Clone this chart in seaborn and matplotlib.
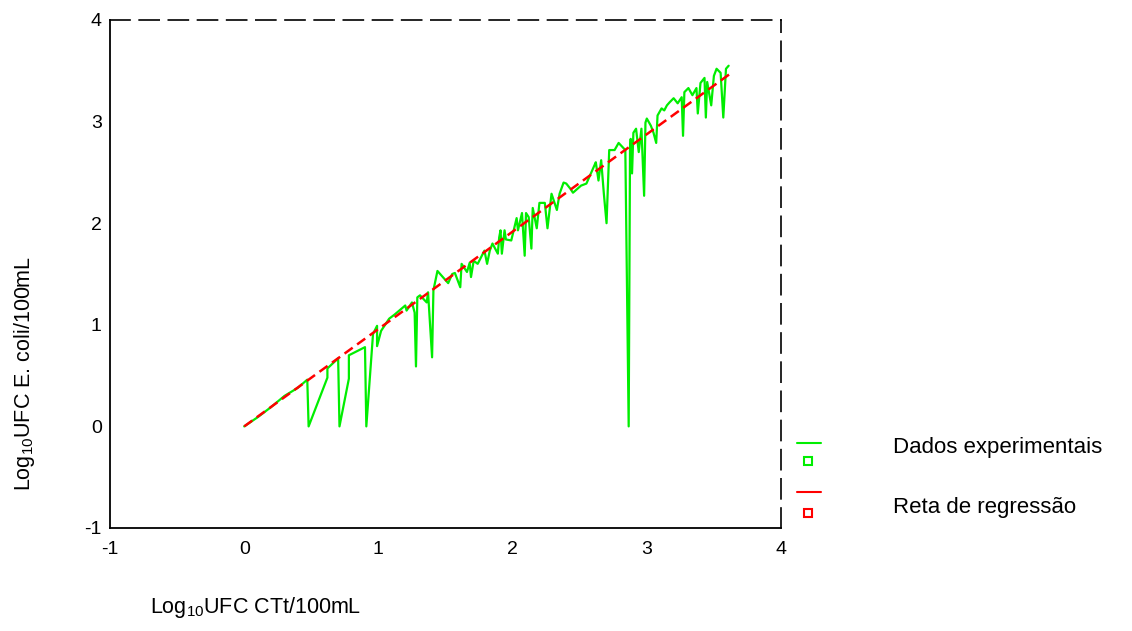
import matplotlib
matplotlib.use("Agg")
import matplotlib.pyplot as plt
import seaborn as sns
import pandas as pd
from matplotlib.lines import Line2D

# ---- data ----
exp_x = [0.00, 0.10, 0.20, 0.30, 0.40, 0.47, 0.48, 0.62, 0.62, 0.70, 0.71, 0.78, 0.78, 0.90, 0.91,
         0.96, 0.99, 0.99, 1.02, 1.08, 1.12, 1.20, 1.21, 1.25, 1.27, 1.28, 1.29, 1.31, 1.36, 1.37,
         1.40, 1.41, 1.44, 1.48, 1.52, 1.55, 1.57, 1.61, 1.62, 1.66, 1.68, 1.69, 1.71, 1.74, 1.79,
         1.81, 1.83, 1.85, 1.89,
         1.90, 1.91, 1.92, 1.94, 1.95, 1.99, 2.03, 2.04, 2.07, 2.09, 2.10, 2.12, 2.14, 2.15, 2.18,
         2.20, 2.24, 2.26, 2.29, 2.33, 2.35, 2.38, 2.40, 2.43, 2.45, 2.51, 2.55, 2.61, 2.62, 2.64,
         2.66, 2.68, 2.70, 2.72, 2.76, 2.79, 2.84, 2.865,
         2.875, 2.88, 2.89, 2.90, 2.92, 2.94, 2.96, 2.98, 2.99, 3.00, 3.03, 3.05, 3.07, 3.08, 3.11,
         3.13, 3.15, 3.17, 3.20, 3.23, 3.26, 3.27, 3.28, 3.31, 3.34, 3.37, 3.38, 3.40, 3.43, 3.44,
         3.45, 3.48, 3.50, 3.52, 3.55, 3.57, 3.59, 3.61]
exp_y = [0.00, 0.09, 0.19, 0.30, 0.38, 0.46, 0.00, 0.48, 0.57, 0.67, 0.00, 0.47, 0.70, 0.78, 0.00,
         0.91, 0.99, 0.79, 0.94, 1.06, 1.10, 1.19, 1.14, 1.22, 1.12, 0.59, 1.27, 1.29, 1.22, 1.32,
         0.68, 1.34, 1.53, 1.47, 1.41, 1.50, 1.51, 1.37, 1.60, 1.52, 1.61, 1.47, 1.63, 1.60, 1.73,
         1.60, 1.73, 1.80, 1.70,
         1.86, 1.93, 1.70, 1.93, 1.84, 1.83, 2.05, 1.93, 2.10, 1.68, 2.10, 2.06, 1.75, 2.15, 1.95,
         2.20, 2.20, 1.95, 2.29, 2.13, 2.29, 2.40, 2.39, 2.34, 2.30, 2.37, 2.39, 2.57, 2.60, 2.42,
         2.62, 2.29, 2.00, 2.72, 2.72, 2.79, 2.72, 0.00,
         2.74, 2.83, 2.49, 2.89, 2.93, 2.70, 2.93, 2.27, 2.99, 3.03, 2.96, 2.89, 2.79, 3.06, 3.13,
         3.11, 3.16, 3.19, 3.23, 3.18, 3.24, 2.86, 3.29, 3.33, 3.26, 3.33, 3.08, 3.38, 3.43, 3.04,
         3.39, 3.16, 3.45, 3.52, 3.48, 3.04, 3.52, 3.55]

reg_x = [0.00, 3.62]
reg_y = [0.00, 3.47]

series_names = ["Dados experimentais", "Reta de regressão"]
x_ticks = [-1, 0, 1, 2, 3, 4]
y_ticks = [-1, 0, 1, 2, 3, 4]

# ---- style ----
sns.set_theme(style="white")
plt.rcParams["font.family"] = ["Liberation Sans", "DejaVu Sans"]
plt.rcParams["mathtext.fontset"] = "custom"
plt.rcParams["mathtext.rm"] = "Liberation Sans"
plt.rcParams["mathtext.it"] = "Liberation Sans:italic"

green = "#00ee00"
red = "#ff0000"

fig = plt.figure(figsize=(11.32, 6.31), dpi=100)
ax = fig.add_axes([110 / 1132, 1 - 528 / 631, (781 - 110) / 1132, 508 / 631])

df_exp = pd.DataFrame({"x": exp_x, "y": exp_y})
df_reg = pd.DataFrame({"x": reg_x, "y": reg_y})

sns.lineplot(data=df_exp, x="x", y="y", ax=ax, sort=False, estimator=None,
             color=green, linewidth=1.6)
ax.plot(df_reg["x"], df_reg["y"], color=red, linewidth=1.8, linestyle=(0, (4, 2.2)))

ax.set_xlim(-1, 4)
ax.set_ylim(-1, 4)
ax.set_xticks(x_ticks)
ax.set_yticks(y_ticks)
ax.set_xticklabels([str(t) for t in x_ticks])
ax.set_yticklabels([str(t) for t in y_ticks])
ax.set_xlabel("")
ax.set_ylabel("")

for s in ["left", "bottom"]:
    ax.spines[s].set_color("black")
    ax.spines[s].set_linewidth(1.3)
for s in ["top", "right"]:
    ax.spines[s].set_color("black")
    ax.spines[s].set_linewidth(1.2)
    ax.spines[s].set_linestyle((0, (12, 5.5)))

ax.tick_params(axis="both", which="major", direction="out", length=3, width=3,
               color="black", labelsize=14, labelcolor="black")
ax.tick_params(axis="x", pad=6)
ax.tick_params(axis="y", pad=3)
ax.grid(False)

# axis titles
fig.text(25 / 1132, 1 - 373 / 631, r"Log$_{10}$UFC E. coli/100mL", rotation=90,
         ha="center", va="center", fontsize=15.5, color="black")
fig.text(150 / 1132, 1 - 607 / 631, r"Log$_{10}$UFC CTt/100mL",
         ha="left", va="center", fontsize=15.5, color="black")

# legend (manual, SPSS-like)
def fx(px):
    return px / 1132

def fy(py):
    return 1 - py / 631

for name, col, ly, sy, ty in [(series_names[0], green, 443, 461, 447),
                              (series_names[1], red, 492, 513, 508)]:
    fig.add_artist(Line2D([fx(797), fx(821)], [fy(ly), fy(ly)], color=col, linewidth=1.5,
                          transform=fig.transFigure))
    fig.add_artist(Line2D([fx(808)], [fy(sy)], marker="s", markersize=5.5, markerfacecolor="white",
                          markeredgecolor=col, markeredgewidth=1.5, linestyle="none",
                          transform=fig.transFigure))
    fig.text(fx(893), fy(ty), name, ha="left", va="center", fontsize=16, color="black")

fig.savefig("out.png", dpi=100)
